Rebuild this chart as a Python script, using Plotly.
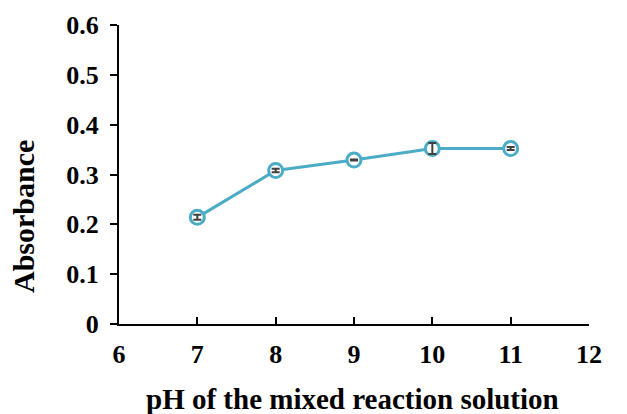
import plotly.graph_objects as go

ph = [7, 8, 9, 10, 11]
absorbance = [0.214, 0.308, 0.329, 0.352, 0.352]
err = [0.005, 0.0035, 0.001, 0.011, 0.003]

x_ticks = [6, 7, 8, 9, 10, 11, 12]
y_ticks = [0, 0.1, 0.2, 0.3, 0.4, 0.5, 0.6]
y_tick_text = ["0", "0.1", "0.2", "0.3", "0.4", "0.5", "0.6"]

color = "#4BACC6"
font = "Liberation Serif"

W, H = 627, 414
ML, MR, MT, MB = 119, 38, 25, 90

fig = go.Figure()
fig.add_trace(go.Scatter(
    x=ph, y=absorbance, mode="lines+markers",
    line=dict(color=color, width=3),
    marker=dict(symbol="circle", size=14, color="white",
                line=dict(color=color, width=3)),
    showlegend=False,
))
fig.add_trace(go.Scatter(
    x=ph, y=absorbance, mode="markers",
    marker=dict(size=1, opacity=0),
    error_y=dict(type="data", array=err, visible=True, color="#404040",
                 thickness=2, width=4),
    showlegend=False,
))

pw = W - ML - MR
ph_ = H - MT - MB

fig.update_layout(
    width=W, height=H,
    margin=dict(l=ML, r=MR, t=MT, b=MB, autoexpand=False),
    paper_bgcolor="white", plot_bgcolor="white",
    font=dict(family=font, color="black"),
    xaxis=dict(
        range=[6, 12], tickvals=x_ticks, ticktext=[str(v) for v in x_ticks],
        showline=True, linecolor="black", linewidth=2,
        ticks="inside", ticklen=7, tickwidth=2, tickcolor="black",
        showgrid=False, zeroline=False,
        tickfont=dict(family=font, size=26, color="black", weight="bold"),
        ticklabelstandoff=6,
    ),
    yaxis=dict(
        range=[0, 0.6], tickvals=y_ticks, ticktext=y_tick_text,
        showline=True, linecolor="black", linewidth=2,
        ticks="outside", ticklen=7, tickwidth=2, tickcolor="black",
        showgrid=False, zeroline=False,
        tickfont=dict(family=font, size=26, color="black", weight="bold"),
        ticklabelstandoff=6,
    ),
    annotations=[
        dict(text="<b>Absorbance</b>", textangle=-90,
             x=(23 - ML) / pw, y=(H - MB - 217) / ph_,
             xref="paper", yref="paper", showarrow=False,
             xanchor="center", yanchor="middle",
             font=dict(family=font, size=30, color="black")),
        dict(text="<b>pH of the mixed reaction solution</b>",
             x=(352 - ML) / pw, y=(H - MB - 399) / ph_,
             xref="paper", yref="paper", showarrow=False,
             xanchor="center", yanchor="middle",
             font=dict(family=font, size=29, color="black")),
    ],
)

fig.write_html("out.html", config={"displayModeBar": False},
               post_script="document.body.style.margin='0';document.body.style.padding='0';")
